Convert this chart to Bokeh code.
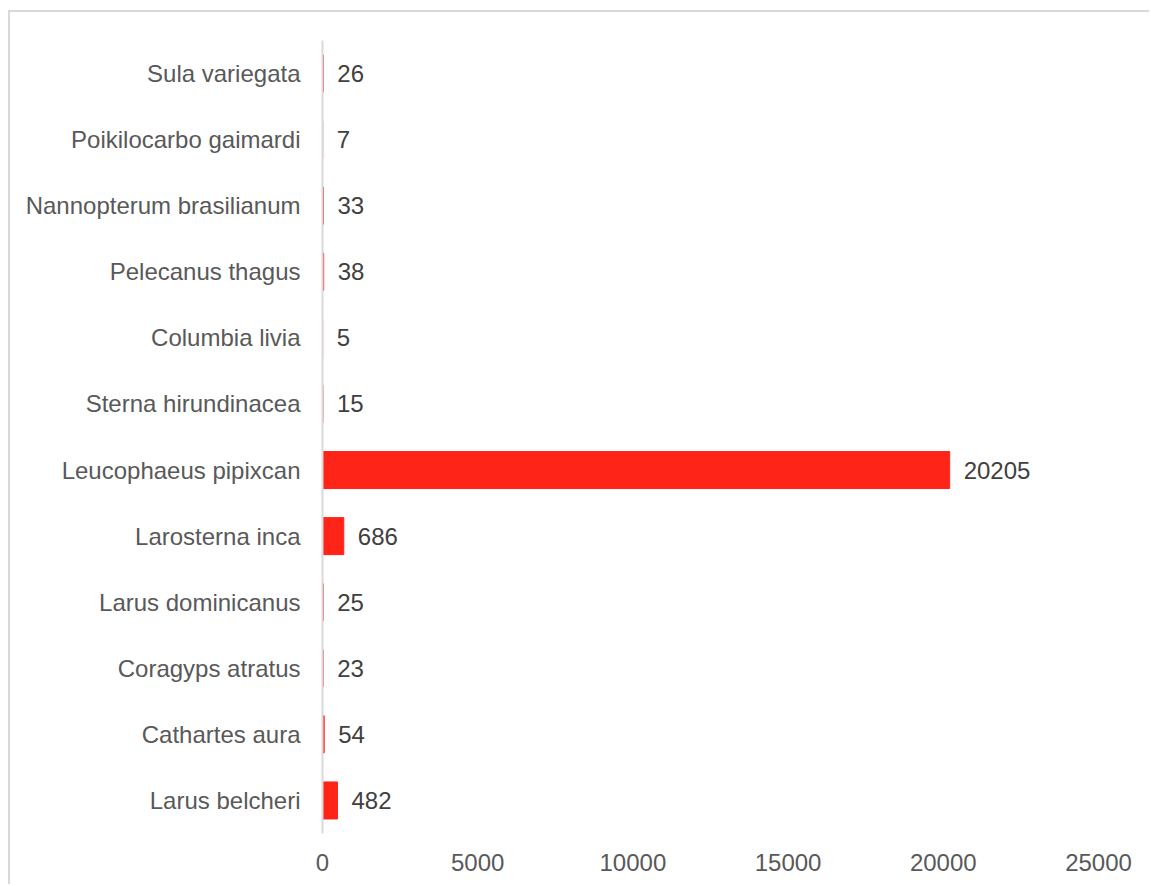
from bokeh.plotting import figure
from bokeh.models import ColumnDataSource, FixedTicker, Range1d, NumeralTickFormatter
from bokeh.core.properties import value
from bokeh.embed import file_html
from bokeh.resources import INLINE

species = ["Larus belcheri", "Cathartes aura", "Coragyps atratus", "Larus dominicanus",
           "Larosterna inca", "Leucophaeus pipixcan", "Sterna hirundinacea", "Columbia livia",
           "Pelecanus thagus", "Nannopterum brasilianum", "Poikilocarbo gaimardi", "Sula variegata"]
counts = [482, 54, 23, 25, 686, 20205, 15, 5, 38, 33, 7, 26]
x_ticks = [0, 5000, 10000, 15000, 20000, 25000]

src = ColumnDataSource(dict(species=species, counts=counts, labels=[str(c) for c in counts]))

p = figure(y_range=species, x_range=Range1d(0, 25000), width=1141, height=874,
           output_backend="svg", toolbar_location=None, margin=(10, 0, 0, 8),
           min_border_left=312, min_border_top=28, min_border_right=53, min_border_bottom=53)
p.styles = {"border-top": "2px solid #d9d9d9", "border-left": "2px solid #d9d9d9"}

p.hbar(y="species", right="counts", left=0, height=0.56, color="#ff2418", source=src)
p.text(x="counts", y="species", text="labels", source=src, x_offset=14,
       text_baseline="middle", text_align="left", text_font=value("Liberation Sans"),
       text_font_size="24px", text_color="#404040")

p.outline_line_color = None
p.xgrid.grid_line_color = None
p.ygrid.grid_line_color = None

p.xaxis.ticker = FixedTicker(ticks=x_ticks)
p.xaxis.formatter = NumeralTickFormatter(format="0")
p.xaxis.axis_line_color = None
p.xaxis.major_tick_line_color = None
p.xaxis.minor_tick_line_color = None
p.xaxis.major_label_standoff = 14
p.xaxis.major_label_text_font = "Liberation Sans"
p.xaxis.major_label_text_font_size = "24px"
p.xaxis.major_label_text_color = "#595959"

p.yaxis.axis_line_color = "#d9d9d9"
p.yaxis.axis_line_width = 2
p.yaxis.major_tick_line_color = None
p.yaxis.minor_tick_line_color = None
p.yaxis.major_label_standoff = 16
p.yaxis.major_label_text_font = "Liberation Sans"
p.yaxis.major_label_text_font_size = "24px"
p.yaxis.major_label_text_color = "#595959"

open("out.html", "w").write(file_html(p, INLINE))
